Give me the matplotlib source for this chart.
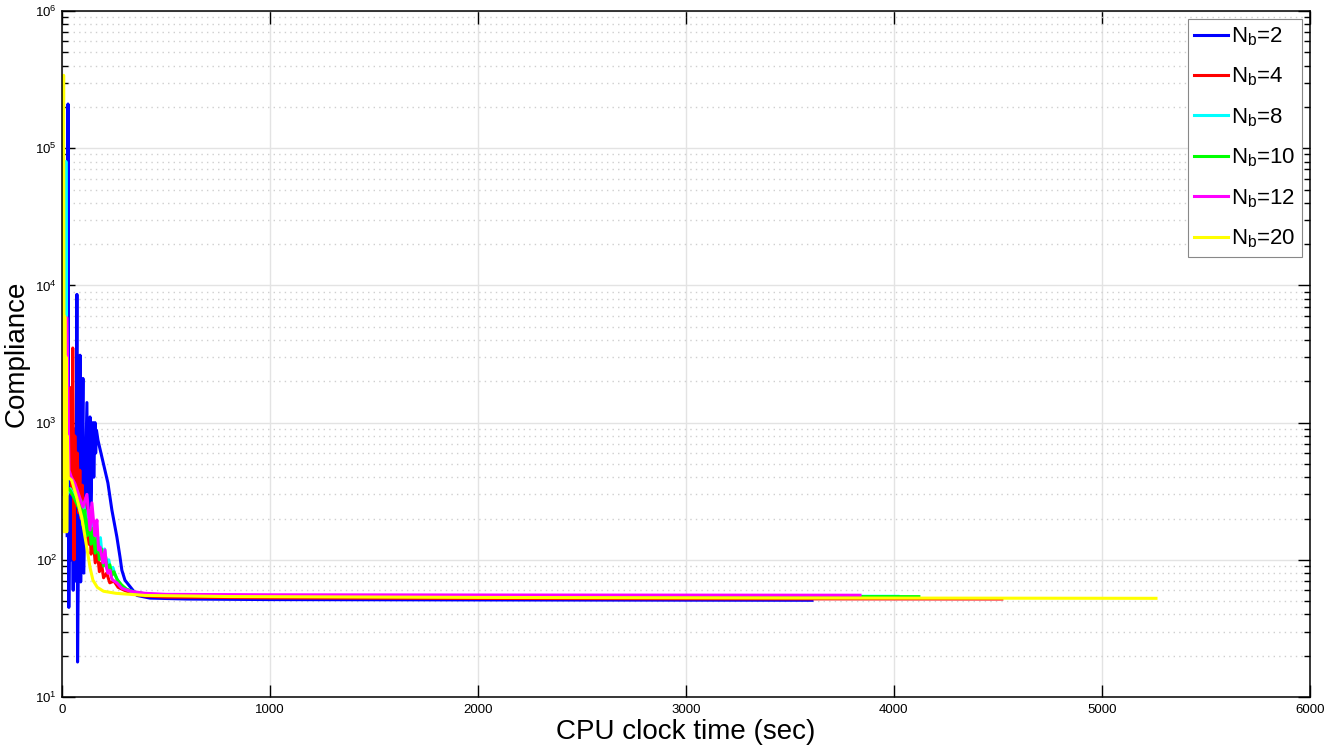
import matplotlib
matplotlib.use("Agg")
import matplotlib.pyplot as plt
from matplotlib.ticker import LogLocator, FixedLocator, NullFormatter, NullLocator

plt.rcParams["font.family"] = ["Liberation Sans", "DejaVu Sans"]
plt.rcParams["mathtext.fontset"] = "custom"
plt.rcParams["mathtext.rm"] = "Liberation Sans"
plt.rcParams["mathtext.it"] = "Liberation Sans:italic"
plt.rcParams["mathtext.bf"] = "Liberation Sans:bold"

# Compliance history versus CPU time for different numbers of blocks N_b
t_nb2 = [25, 29, 33, 38, 43, 48, 54, 60, 66, 72, 75, 87, 90, 101, 105, 120, 124,
         135, 139, 149, 153, 159, 162, 166, 173, 192, 221, 240, 264, 279, 288,
         303, 361, 423, 600, 1000, 2000, 3000, 3606]
c_nb2 = [150, 2.1e5, 45, 600, 100, 800, 60, 900, 70, 8600, 18, 3100, 69, 2100,
         80, 1400, 140, 1100, 250, 1000, 400, 1000, 600, 880, 747, 561, 363, 231,
         147, 105, 84, 71, 55, 52.6, 51.8, 51.3, 51.0, 50.8, 50.7]

t_nb4 = [12, 18, 24, 30, 36, 42, 47, 52, 58, 62, 68, 74, 80, 86, 92, 98, 104,
         110, 116, 122, 128, 134, 140, 150, 160, 170, 180, 190, 200, 215, 230,
         250, 270, 300, 350, 400, 500, 1000, 2000, 3000, 4519]
c_nb4 = [450, 700, 350, 1000, 400, 1800, 300, 3500, 100, 800, 250, 600, 220,
         450, 200, 350, 170, 280, 150, 220, 130, 180, 110, 140, 95, 115, 82, 95,
         74, 80, 68, 70, 63, 60, 56, 54.5, 53.5, 52.8, 52.3, 52.0, 51.8]

t_nb8 = [5, 15, 19, 22, 26, 40, 60, 80, 95, 105, 115, 125, 135, 145, 155, 165,
         175, 185, 195, 205, 215, 225, 235, 245, 255, 270, 290, 320, 360, 420,
         600, 1000, 2000, 3000, 4020]
c_nb8 = [400, 350, 8e4, 6000, 300, 330, 290, 250, 200, 260, 170, 230, 150, 200,
         130, 170, 115, 145, 100, 120, 92, 100, 84, 88, 78, 70, 64, 60, 57.5,
         56, 55, 54.6, 54.4, 54.3, 54.2]

t_nb10 = [5, 15, 24, 30, 40, 60, 80, 92, 100, 110, 120, 130, 140, 150, 160,
          170, 180, 190, 200, 210, 220, 230, 240, 250, 265, 285, 310, 350, 420,
          600, 1000, 2000, 3000, 4120]
c_nb10 = [400, 380, 340, 330, 320, 280, 240, 270, 180, 230, 150, 200, 130, 170,
          112, 145, 100, 120, 90, 105, 83, 92, 77, 82, 72, 66, 61, 58, 56, 55,
          54.4, 54.1, 54.0, 53.9]

t_nb12 = [5, 12, 24, 34, 45, 62, 80, 101, 120, 135, 144, 158, 168, 176, 183,
          197, 207, 214, 221, 231, 238, 245, 264, 288, 330, 400, 500, 1000,
          2000, 3000, 3837]
c_nb12 = [300, 350, 5800, 450, 400, 360, 300, 242, 300, 165, 260, 150, 195,
          118, 124, 95, 118, 88, 80, 84, 74, 71, 68, 62, 59, 57, 56, 55.6,
          55.4, 55.3, 55.2]

t_nb20 = [4, 8, 11, 14, 17, 20, 23, 26, 30, 47, 71, 95, 119, 135, 149, 170,
          200, 260, 400, 800, 2000, 3500, 5260]
c_nb20 = [400, 3.4e5, 160, 5900, 170, 3000, 160, 800, 400, 380, 285, 205,
          124, 88, 71, 63, 59, 57, 55, 54, 53.2, 52.7, 52.4]

series = [
    (t_nb2, c_nb2, "#0000ff", "2"),
    (t_nb4, c_nb4, "#ff0000", "4"),
    (t_nb8, c_nb8, "#00ffff", "8"),
    (t_nb10, c_nb10, "#00ff00", "10"),
    (t_nb12, c_nb12, "#ff00ff", "12"),
    (t_nb20, c_nb20, "#ffff00", "20"),
]

fig = plt.figure(figsize=(13.38, 7.55), dpi=100)
ax = fig.add_axes([0.0463, 0.0768, 0.9327, 0.9086])

for t, c, col, nb in series:
    ax.plot(t, c, color=col, lw=2.2, label=r"N$_\mathregular{b}$=" + nb)

ax.set_yscale("log")
ax.set_xlim(0, 6000)
ax.set_ylim(10, 1e6)
ax.xaxis.set_major_locator(FixedLocator([0, 1000, 2000, 3000, 4000, 5000, 6000]))
ax.xaxis.set_minor_locator(NullLocator())
ax.yaxis.set_major_locator(LogLocator(base=10, numticks=10))
ax.yaxis.set_minor_locator(LogLocator(base=10, subs=range(2, 10), numticks=100))
ax.yaxis.set_minor_formatter(NullFormatter())

ax.grid(which="major", color="#e3e3e3", lw=1.0, ls="-")
ax.grid(which="minor", axis="y", color="#cfcfcf", lw=1.0, ls=(0, (1, 3)))
ax.set_axisbelow(True)

ax.tick_params(which="both", direction="in", top=True, right=True,
               labelsize=9.5, width=1.0, colors="black")
ax.tick_params(which="major", length=9)
ax.tick_params(which="minor", length=4.5)
ax.tick_params(axis="x", pad=5)
for sp in ax.spines.values():
    sp.set_linewidth(1.1)

ax.set_xlabel("CPU clock time (sec)", fontsize=20, labelpad=2)
ax.set_ylabel("Compliance", fontsize=20, labelpad=4)

leg = ax.legend(loc="upper right", fontsize=16, frameon=True, fancybox=False,
                framealpha=1, edgecolor="#888888", borderaxespad=0.35,
                handlelength=1.5, handletextpad=0.15, labelspacing=0.8,
                borderpad=0.3)
leg.get_frame().set_linewidth(0.8)

fig.savefig("out.png", dpi=100)
